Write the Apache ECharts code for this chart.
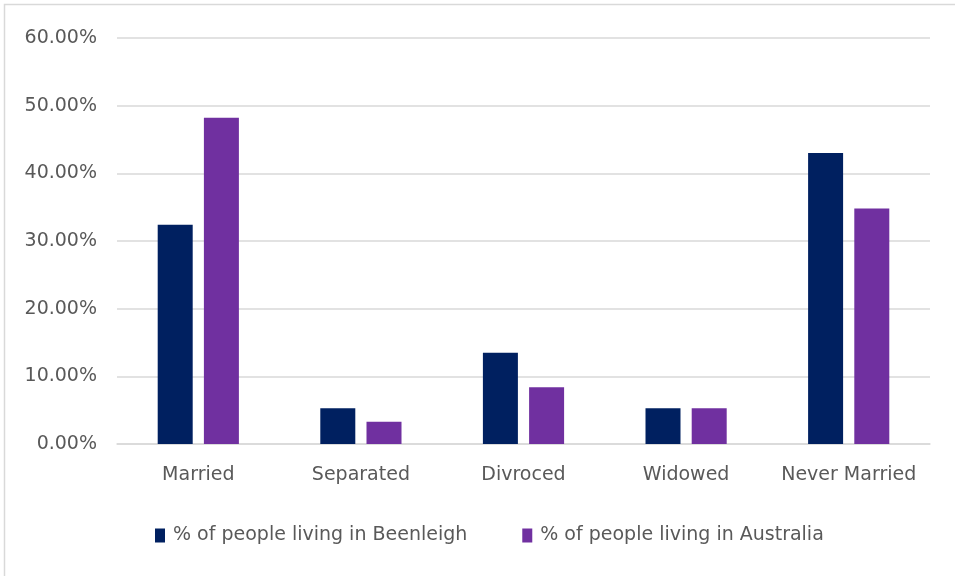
<!DOCTYPE html>
<html>
<head>
<meta charset="utf-8">
<script src="https://cdn.jsdelivr.net/npm/echarts@6/dist/echarts.min.js"></script>
<style>
html,body{margin:0;padding:0;background:#fff;}
#main{width:955px;height:576px;}
</style>
</head>
<body>
<div id="main"></div>
<script>
var categories = ['Married', 'Separated', 'Divroced', 'Widowed', 'Never Married'];
var seriesNames = ['% of people living in Beenleigh', '% of people living in Australia'];
var beenleigh = [32.4, 5.3, 13.5, 5.3, 43.0];
var australia = [48.2, 3.3, 8.4, 5.3, 34.8];
var yTicks = [0, 10, 20, 30, 40, 50, 60];

var chart = echarts.init(document.getElementById('main'), null, {renderer: 'canvas'});
var font = 'DejaVu Sans';
var txt = '#595959';
chart.setOption({
  animation: false,
  backgroundColor: '#ffffff',
  graphic: [{
    type: 'polyline',
    shape: {points: [[4.5, 576], [4.5, 4.5], [955, 4.5]]},
    style: {stroke: '#d9d9d9', lineWidth: 1.5, fill: null},
    silent: true
  }],
  grid: {left: 117, right: 25, top: 38, bottom: 132, containLabel: false},
  legend: {
    bottom: 26,
    left: 150,
    itemWidth: 10,
    itemHeight: 14,
    itemGap: 55,
    icon: 'rect',
    textStyle: {fontFamily: font, fontSize: 19, color: txt, padding: [0, 0, 0, 3]},
    data: seriesNames
  },
  xAxis: {
    type: 'category',
    data: categories,
    axisLine: {lineStyle: {color: '#d9d9d9', width: 1.5}},
    axisTick: {show: false},
    axisLabel: {fontFamily: font, fontSize: 19, color: txt, margin: 22, interval: 0}
  },
  yAxis: {
    type: 'value',
    min: yTicks[0],
    max: yTicks[yTicks.length - 1],
    interval: 10,
    axisLine: {show: false},
    axisTick: {show: false},
    splitLine: {lineStyle: {color: '#d9d9d9', width: 1.5}},
    axisLabel: {
      fontFamily: font, fontSize: 19, color: txt, margin: 20,
      formatter: function (v) { return v.toFixed(2) + '%'; }
    }
  },
  series: [
    {name: seriesNames[0], type: 'bar', data: beenleigh, barWidth: 35, barGap: '32%',
     itemStyle: {color: '#002060'}},
    {name: seriesNames[1], type: 'bar', data: australia, barWidth: 35, barGap: '32%',
     itemStyle: {color: '#7030A0'}}
  ]
});
</script>
</body>
</html>
